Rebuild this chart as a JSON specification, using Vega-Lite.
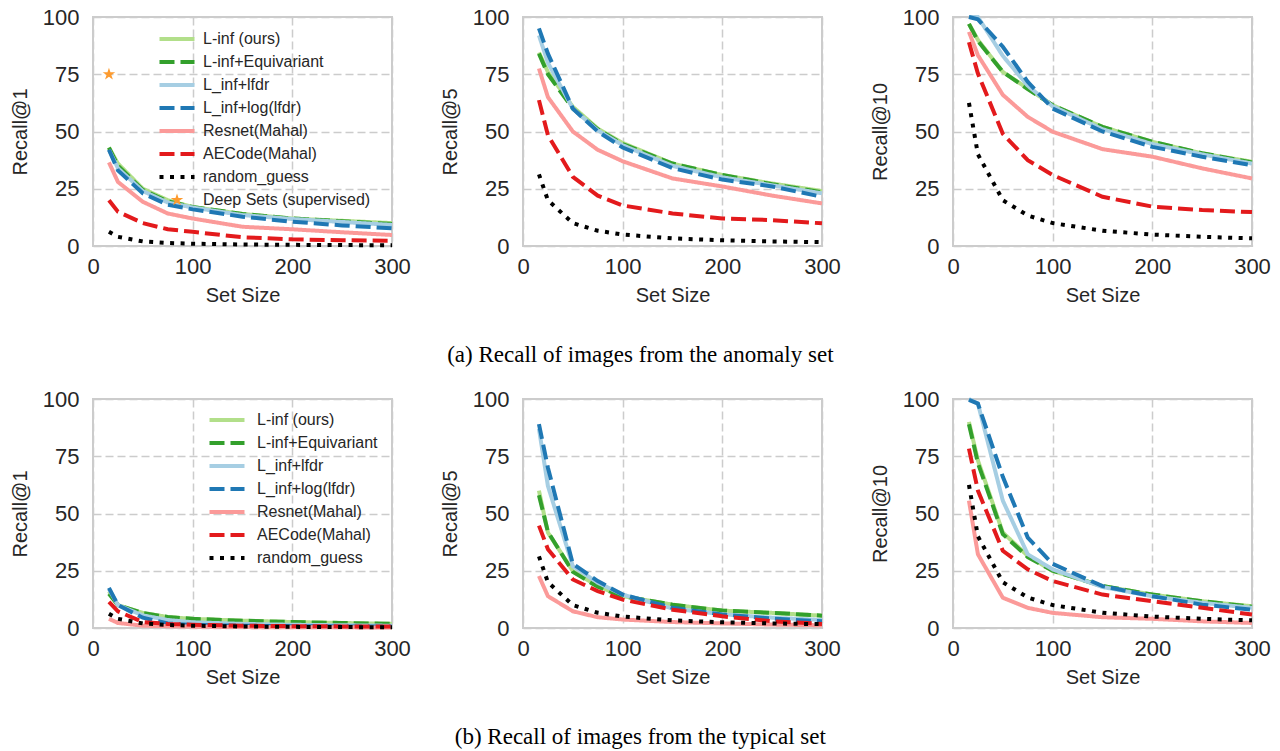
{
"$schema": "https://vega.github.io/schema/vega-lite/v6.json",
"padding": {"left": 9, "top": 5, "right": 5, "bottom": 5},
"background": "white",
"config": {
 "font": "Liberation Sans",
 "view": {"stroke": "#cccccc", "strokeWidth": 2},
 "axis": {"domain": false, "ticks": false, "grid": true, "gridColor": "#cccccc", "gridDash": [8, 4], "gridWidth": 1.5, "labelFontSize": 22, "titleFontSize": 20, "labelColor": "#262626", "titleColor": "#262626", "titleFontWeight": "normal"},
 "axisX": {"labelPadding": 10, "titlePadding": 8, "labelFlush": false},
 "axisY": {"labelPadding": 14, "titlePadding": 12},
 "legend": {"labelLimit": 0}
},
"datasets": {
"a1": [
{"s":"L-inf (ours)","x":16,"y":43},{"s":"L-inf (ours)","x":25,"y":36},{"s":"L-inf (ours)","x":50,"y":25},{"s":"L-inf (ours)","x":75,"y":20},{"s":"L-inf (ours)","x":100,"y":17},{"s":"L-inf (ours)","x":150,"y":14},{"s":"L-inf (ours)","x":200,"y":12},{"s":"L-inf (ours)","x":250,"y":11},{"s":"L-inf (ours)","x":300,"y":10},
{"s":"L-inf+Equivariant","x":16,"y":43},{"s":"L-inf+Equivariant","x":25,"y":35},{"s":"L-inf+Equivariant","x":50,"y":24.5},{"s":"L-inf+Equivariant","x":75,"y":19.5},{"s":"L-inf+Equivariant","x":100,"y":17},{"s":"L-inf+Equivariant","x":150,"y":14},{"s":"L-inf+Equivariant","x":200,"y":12},{"s":"L-inf+Equivariant","x":250,"y":10.8},{"s":"L-inf+Equivariant","x":300,"y":9.6},
{"s":"L_inf+lfdr","x":16,"y":42},{"s":"L_inf+lfdr","x":25,"y":34},{"s":"L_inf+lfdr","x":50,"y":24},{"s":"L_inf+lfdr","x":75,"y":19},{"s":"L_inf+lfdr","x":100,"y":16.8},{"s":"L_inf+lfdr","x":150,"y":13.5},{"s":"L_inf+lfdr","x":200,"y":11.8},{"s":"L_inf+lfdr","x":250,"y":10.5},{"s":"L_inf+lfdr","x":300,"y":9.2},
{"s":"L_inf+log(lfdr)","x":16,"y":42},{"s":"L_inf+log(lfdr)","x":25,"y":33},{"s":"L_inf+log(lfdr)","x":50,"y":23},{"s":"L_inf+log(lfdr)","x":75,"y":18},{"s":"L_inf+log(lfdr)","x":100,"y":16},{"s":"L_inf+log(lfdr)","x":150,"y":12.8},{"s":"L_inf+log(lfdr)","x":200,"y":10.6},{"s":"L_inf+log(lfdr)","x":250,"y":9},{"s":"L_inf+log(lfdr)","x":300,"y":7.7},
{"s":"Resnet(Mahal)","x":16,"y":36.5},{"s":"Resnet(Mahal)","x":25,"y":28},{"s":"Resnet(Mahal)","x":50,"y":19.3},{"s":"Resnet(Mahal)","x":75,"y":14.2},{"s":"Resnet(Mahal)","x":100,"y":12},{"s":"Resnet(Mahal)","x":150,"y":8.4},{"s":"Resnet(Mahal)","x":200,"y":7.3},{"s":"Resnet(Mahal)","x":250,"y":6},{"s":"Resnet(Mahal)","x":300,"y":4.8},
{"s":"AECode(Mahal)","x":16,"y":20},{"s":"AECode(Mahal)","x":25,"y":15},{"s":"AECode(Mahal)","x":50,"y":10},{"s":"AECode(Mahal)","x":75,"y":7.3},{"s":"AECode(Mahal)","x":100,"y":6.2},{"s":"AECode(Mahal)","x":150,"y":3.8},{"s":"AECode(Mahal)","x":200,"y":2.9},{"s":"AECode(Mahal)","x":250,"y":2.5},{"s":"AECode(Mahal)","x":300,"y":2.3},
{"s":"random_guess","x":16,"y":6.25},{"s":"random_guess","x":25,"y":4},{"s":"random_guess","x":50,"y":2},{"s":"random_guess","x":75,"y":1.33},{"s":"random_guess","x":100,"y":1},{"s":"random_guess","x":150,"y":0.67},{"s":"random_guess","x":200,"y":0.5},{"s":"random_guess","x":250,"y":0.4},{"s":"random_guess","x":300,"y":0.33}
],
"a5": [
{"s":"L-inf (ours)","x":16,"y":84.5},{"s":"L-inf (ours)","x":25,"y":76},{"s":"L-inf (ours)","x":50,"y":60.8},{"s":"L-inf (ours)","x":75,"y":51.3},{"s":"L-inf (ours)","x":100,"y":45},{"s":"L-inf (ours)","x":150,"y":36},{"s":"L-inf (ours)","x":200,"y":31},{"s":"L-inf (ours)","x":250,"y":27.3},{"s":"L-inf (ours)","x":300,"y":24},
{"s":"L-inf+Equivariant","x":16,"y":84},{"s":"L-inf+Equivariant","x":25,"y":75},{"s":"L-inf+Equivariant","x":50,"y":60},{"s":"L-inf+Equivariant","x":75,"y":51},{"s":"L-inf+Equivariant","x":100,"y":44.5},{"s":"L-inf+Equivariant","x":150,"y":36},{"s":"L-inf+Equivariant","x":200,"y":31},{"s":"L-inf+Equivariant","x":250,"y":27},{"s":"L-inf+Equivariant","x":300,"y":23.5},
{"s":"L_inf+lfdr","x":16,"y":92},{"s":"L_inf+lfdr","x":25,"y":80},{"s":"L_inf+lfdr","x":50,"y":60},{"s":"L_inf+lfdr","x":75,"y":50.5},{"s":"L_inf+lfdr","x":100,"y":44},{"s":"L_inf+lfdr","x":150,"y":35},{"s":"L_inf+lfdr","x":200,"y":30},{"s":"L_inf+lfdr","x":250,"y":26.5},{"s":"L_inf+lfdr","x":300,"y":23},
{"s":"L_inf+log(lfdr)","x":16,"y":95},{"s":"L_inf+log(lfdr)","x":25,"y":84},{"s":"L_inf+log(lfdr)","x":50,"y":60},{"s":"L_inf+log(lfdr)","x":75,"y":50},{"s":"L_inf+log(lfdr)","x":100,"y":43},{"s":"L_inf+log(lfdr)","x":150,"y":34},{"s":"L_inf+log(lfdr)","x":200,"y":29},{"s":"L_inf+log(lfdr)","x":250,"y":26},{"s":"L_inf+log(lfdr)","x":300,"y":21.5},
{"s":"Resnet(Mahal)","x":16,"y":77.5},{"s":"Resnet(Mahal)","x":25,"y":65},{"s":"Resnet(Mahal)","x":50,"y":50},{"s":"Resnet(Mahal)","x":75,"y":42},{"s":"Resnet(Mahal)","x":100,"y":37},{"s":"Resnet(Mahal)","x":150,"y":29.5},{"s":"Resnet(Mahal)","x":200,"y":26},{"s":"Resnet(Mahal)","x":250,"y":22},{"s":"Resnet(Mahal)","x":300,"y":18.6},
{"s":"AECode(Mahal)","x":16,"y":63.7},{"s":"AECode(Mahal)","x":25,"y":48.4},{"s":"AECode(Mahal)","x":50,"y":30.2},{"s":"AECode(Mahal)","x":75,"y":22},{"s":"AECode(Mahal)","x":100,"y":17.7},{"s":"AECode(Mahal)","x":150,"y":14.2},{"s":"AECode(Mahal)","x":200,"y":12},{"s":"AECode(Mahal)","x":250,"y":11.3},{"s":"AECode(Mahal)","x":300,"y":9.9},
{"s":"random_guess","x":16,"y":31.25},{"s":"random_guess","x":25,"y":20},{"s":"random_guess","x":50,"y":10},{"s":"random_guess","x":75,"y":6.67},{"s":"random_guess","x":100,"y":5},{"s":"random_guess","x":150,"y":3.33},{"s":"random_guess","x":200,"y":2.5},{"s":"random_guess","x":250,"y":2},{"s":"random_guess","x":300,"y":1.67}
],
"a10": [
{"s":"L-inf (ours)","x":16,"y":97},{"s":"L-inf (ours)","x":25,"y":90},{"s":"L-inf (ours)","x":50,"y":76},{"s":"L-inf (ours)","x":75,"y":68.8},{"s":"L-inf (ours)","x":100,"y":61.5},{"s":"L-inf (ours)","x":150,"y":52},{"s":"L-inf (ours)","x":200,"y":45.5},{"s":"L-inf (ours)","x":250,"y":40.4},{"s":"L-inf (ours)","x":300,"y":36.8},
{"s":"L-inf+Equivariant","x":16,"y":97},{"s":"L-inf+Equivariant","x":25,"y":89.5},{"s":"L-inf+Equivariant","x":50,"y":76},{"s":"L-inf+Equivariant","x":75,"y":68.5},{"s":"L-inf+Equivariant","x":100,"y":61.5},{"s":"L-inf+Equivariant","x":150,"y":52},{"s":"L-inf+Equivariant","x":200,"y":45.5},{"s":"L-inf+Equivariant","x":250,"y":40.5},{"s":"L-inf+Equivariant","x":300,"y":36.5},
{"s":"L_inf+lfdr","x":16,"y":100},{"s":"L_inf+lfdr","x":25,"y":100},{"s":"L_inf+lfdr","x":50,"y":83},{"s":"L_inf+lfdr","x":75,"y":70},{"s":"L_inf+lfdr","x":100,"y":61},{"s":"L_inf+lfdr","x":150,"y":51},{"s":"L_inf+lfdr","x":200,"y":44.5},{"s":"L_inf+lfdr","x":250,"y":40},{"s":"L_inf+lfdr","x":300,"y":36},
{"s":"L_inf+log(lfdr)","x":16,"y":100},{"s":"L_inf+log(lfdr)","x":25,"y":99},{"s":"L_inf+log(lfdr)","x":50,"y":87},{"s":"L_inf+log(lfdr)","x":75,"y":71.7},{"s":"L_inf+log(lfdr)","x":100,"y":60},{"s":"L_inf+log(lfdr)","x":150,"y":50},{"s":"L_inf+log(lfdr)","x":200,"y":43.3},{"s":"L_inf+log(lfdr)","x":250,"y":39},{"s":"L_inf+log(lfdr)","x":300,"y":35.3},
{"s":"Resnet(Mahal)","x":16,"y":93.5},{"s":"Resnet(Mahal)","x":25,"y":83.3},{"s":"Resnet(Mahal)","x":50,"y":66},{"s":"Resnet(Mahal)","x":75,"y":56.4},{"s":"Resnet(Mahal)","x":100,"y":49.9},{"s":"Resnet(Mahal)","x":150,"y":42.3},{"s":"Resnet(Mahal)","x":200,"y":39},{"s":"Resnet(Mahal)","x":250,"y":33.9},{"s":"Resnet(Mahal)","x":300,"y":29.5},
{"s":"AECode(Mahal)","x":16,"y":89},{"s":"AECode(Mahal)","x":25,"y":75.3},{"s":"AECode(Mahal)","x":50,"y":49},{"s":"AECode(Mahal)","x":75,"y":37.5},{"s":"AECode(Mahal)","x":100,"y":31},{"s":"AECode(Mahal)","x":150,"y":21.5},{"s":"AECode(Mahal)","x":200,"y":17.2},{"s":"AECode(Mahal)","x":250,"y":15.7},{"s":"AECode(Mahal)","x":300,"y":14.8},
{"s":"random_guess","x":16,"y":62.5},{"s":"random_guess","x":25,"y":40},{"s":"random_guess","x":50,"y":20},{"s":"random_guess","x":75,"y":13.33},{"s":"random_guess","x":100,"y":10},{"s":"random_guess","x":150,"y":6.67},{"s":"random_guess","x":200,"y":5},{"s":"random_guess","x":250,"y":4},{"s":"random_guess","x":300,"y":3.33}
],
"b1": [
{"s":"L-inf (ours)","x":16,"y":16},{"s":"L-inf (ours)","x":25,"y":10},{"s":"L-inf (ours)","x":50,"y":6.6},{"s":"L-inf (ours)","x":75,"y":4.8},{"s":"L-inf (ours)","x":100,"y":4},{"s":"L-inf (ours)","x":150,"y":3.2},{"s":"L-inf (ours)","x":200,"y":2.6},{"s":"L-inf (ours)","x":250,"y":2.2},{"s":"L-inf (ours)","x":300,"y":1.8},
{"s":"L-inf+Equivariant","x":16,"y":15},{"s":"L-inf+Equivariant","x":25,"y":10},{"s":"L-inf+Equivariant","x":50,"y":6.5},{"s":"L-inf+Equivariant","x":75,"y":4.8},{"s":"L-inf+Equivariant","x":100,"y":4},{"s":"L-inf+Equivariant","x":150,"y":3.2},{"s":"L-inf+Equivariant","x":200,"y":2.6},{"s":"L-inf+Equivariant","x":250,"y":2.2},{"s":"L-inf+Equivariant","x":300,"y":1.8},
{"s":"L_inf+lfdr","x":16,"y":17},{"s":"L_inf+lfdr","x":25,"y":10},{"s":"L_inf+lfdr","x":50,"y":5.5},{"s":"L_inf+lfdr","x":75,"y":3.5},{"s":"L_inf+lfdr","x":100,"y":2.5},{"s":"L_inf+lfdr","x":150,"y":1.8},{"s":"L_inf+lfdr","x":200,"y":1.4},{"s":"L_inf+lfdr","x":250,"y":1.2},{"s":"L_inf+lfdr","x":300,"y":1},
{"s":"L_inf+log(lfdr)","x":16,"y":17.5},{"s":"L_inf+log(lfdr)","x":25,"y":10},{"s":"L_inf+log(lfdr)","x":50,"y":4.5},{"s":"L_inf+log(lfdr)","x":75,"y":2},{"s":"L_inf+log(lfdr)","x":100,"y":1.3},{"s":"L_inf+log(lfdr)","x":150,"y":1},{"s":"L_inf+log(lfdr)","x":200,"y":0.8},{"s":"L_inf+log(lfdr)","x":250,"y":0.7},{"s":"L_inf+log(lfdr)","x":300,"y":0.6},
{"s":"Resnet(Mahal)","x":16,"y":4},{"s":"Resnet(Mahal)","x":25,"y":2.2},{"s":"Resnet(Mahal)","x":50,"y":1},{"s":"Resnet(Mahal)","x":75,"y":0.8},{"s":"Resnet(Mahal)","x":100,"y":0.6},{"s":"Resnet(Mahal)","x":150,"y":0.4},{"s":"Resnet(Mahal)","x":200,"y":0.3},{"s":"Resnet(Mahal)","x":250,"y":0.3},{"s":"Resnet(Mahal)","x":300,"y":0.2},
{"s":"AECode(Mahal)","x":16,"y":11.4},{"s":"AECode(Mahal)","x":25,"y":7.3},{"s":"AECode(Mahal)","x":50,"y":2.6},{"s":"AECode(Mahal)","x":75,"y":1.8},{"s":"AECode(Mahal)","x":100,"y":1.4},{"s":"AECode(Mahal)","x":150,"y":1},{"s":"AECode(Mahal)","x":200,"y":0.8},{"s":"AECode(Mahal)","x":250,"y":0.7},{"s":"AECode(Mahal)","x":300,"y":0.6},
{"s":"random_guess","x":16,"y":6.25},{"s":"random_guess","x":25,"y":4},{"s":"random_guess","x":50,"y":2},{"s":"random_guess","x":75,"y":1.33},{"s":"random_guess","x":100,"y":1},{"s":"random_guess","x":150,"y":0.67},{"s":"random_guess","x":200,"y":0.5},{"s":"random_guess","x":250,"y":0.4},{"s":"random_guess","x":300,"y":0.33}
],
"b5": [
{"s":"L-inf (ours)","x":16,"y":60},{"s":"L-inf (ours)","x":25,"y":41.7},{"s":"L-inf (ours)","x":50,"y":24.9},{"s":"L-inf (ours)","x":75,"y":18.3},{"s":"L-inf (ours)","x":100,"y":13.9},{"s":"L-inf (ours)","x":150,"y":10.2},{"s":"L-inf (ours)","x":200,"y":7.6},{"s":"L-inf (ours)","x":250,"y":6.6},{"s":"L-inf (ours)","x":300,"y":5.4},
{"s":"L-inf+Equivariant","x":16,"y":58},{"s":"L-inf+Equivariant","x":25,"y":42},{"s":"L-inf+Equivariant","x":50,"y":24.5},{"s":"L-inf+Equivariant","x":75,"y":18},{"s":"L-inf+Equivariant","x":100,"y":13.9},{"s":"L-inf+Equivariant","x":150,"y":10.2},{"s":"L-inf+Equivariant","x":200,"y":7.6},{"s":"L-inf+Equivariant","x":250,"y":6.6},{"s":"L-inf+Equivariant","x":300,"y":5.4},
{"s":"L_inf+lfdr","x":16,"y":87},{"s":"L_inf+lfdr","x":25,"y":62},{"s":"L_inf+lfdr","x":50,"y":27},{"s":"L_inf+lfdr","x":75,"y":19.8},{"s":"L_inf+lfdr","x":100,"y":14.6},{"s":"L_inf+lfdr","x":150,"y":8.5},{"s":"L_inf+lfdr","x":200,"y":6},{"s":"L_inf+lfdr","x":250,"y":4.5},{"s":"L_inf+lfdr","x":300,"y":3.5},
{"s":"L_inf+log(lfdr)","x":16,"y":89},{"s":"L_inf+log(lfdr)","x":25,"y":70},{"s":"L_inf+log(lfdr)","x":50,"y":28},{"s":"L_inf+log(lfdr)","x":75,"y":20.5},{"s":"L_inf+log(lfdr)","x":100,"y":14.6},{"s":"L_inf+log(lfdr)","x":150,"y":8.8},{"s":"L_inf+log(lfdr)","x":200,"y":5.9},{"s":"L_inf+log(lfdr)","x":250,"y":4.1},{"s":"L_inf+log(lfdr)","x":300,"y":2.9},
{"s":"Resnet(Mahal)","x":16,"y":22.7},{"s":"Resnet(Mahal)","x":25,"y":13.9},{"s":"Resnet(Mahal)","x":50,"y":7.3},{"s":"Resnet(Mahal)","x":75,"y":4.7},{"s":"Resnet(Mahal)","x":100,"y":3.7},{"s":"Resnet(Mahal)","x":150,"y":2.6},{"s":"Resnet(Mahal)","x":200,"y":2},{"s":"Resnet(Mahal)","x":250,"y":1.5},{"s":"Resnet(Mahal)","x":300,"y":1.2},
{"s":"AECode(Mahal)","x":16,"y":44.7},{"s":"AECode(Mahal)","x":25,"y":34.4},{"s":"AECode(Mahal)","x":50,"y":21.2},{"s":"AECode(Mahal)","x":75,"y":16.1},{"s":"AECode(Mahal)","x":100,"y":12.4},{"s":"AECode(Mahal)","x":150,"y":8},{"s":"AECode(Mahal)","x":200,"y":5.1},{"s":"AECode(Mahal)","x":250,"y":2.9},{"s":"AECode(Mahal)","x":300,"y":1.8},
{"s":"random_guess","x":16,"y":31.25},{"s":"random_guess","x":25,"y":20},{"s":"random_guess","x":50,"y":10},{"s":"random_guess","x":75,"y":6.67},{"s":"random_guess","x":100,"y":5},{"s":"random_guess","x":150,"y":3.33},{"s":"random_guess","x":200,"y":2.5},{"s":"random_guess","x":250,"y":2},{"s":"random_guess","x":300,"y":1.67}
],
"b10": [
{"s":"L-inf (ours)","x":16,"y":90},{"s":"L-inf (ours)","x":25,"y":73.2},{"s":"L-inf (ours)","x":50,"y":41.7},{"s":"L-inf (ours)","x":75,"y":31.5},{"s":"L-inf (ours)","x":100,"y":24.9},{"s":"L-inf (ours)","x":150,"y":18.3},{"s":"L-inf (ours)","x":200,"y":14.6},{"s":"L-inf (ours)","x":250,"y":11.7},{"s":"L-inf (ours)","x":300,"y":9.5},
{"s":"L-inf+Equivariant","x":16,"y":89},{"s":"L-inf+Equivariant","x":25,"y":72},{"s":"L-inf+Equivariant","x":50,"y":41},{"s":"L-inf+Equivariant","x":75,"y":31},{"s":"L-inf+Equivariant","x":100,"y":25},{"s":"L-inf+Equivariant","x":150,"y":18.3},{"s":"L-inf+Equivariant","x":200,"y":14.6},{"s":"L-inf+Equivariant","x":250,"y":11.7},{"s":"L-inf+Equivariant","x":300,"y":9.3},
{"s":"L_inf+lfdr","x":16,"y":100},{"s":"L_inf+lfdr","x":25,"y":98},{"s":"L_inf+lfdr","x":50,"y":55.6},{"s":"L_inf+lfdr","x":75,"y":32.2},{"s":"L_inf+lfdr","x":100,"y":25.6},{"s":"L_inf+lfdr","x":150,"y":17.9},{"s":"L_inf+lfdr","x":200,"y":13.9},{"s":"L_inf+lfdr","x":250,"y":11},{"s":"L_inf+lfdr","x":300,"y":8.8},
{"s":"L_inf+log(lfdr)","x":16,"y":99.6},{"s":"L_inf+log(lfdr)","x":25,"y":98},{"s":"L_inf+log(lfdr)","x":50,"y":66},{"s":"L_inf+log(lfdr)","x":75,"y":39.5},{"s":"L_inf+log(lfdr)","x":100,"y":28},{"s":"L_inf+log(lfdr)","x":150,"y":18.3},{"s":"L_inf+log(lfdr)","x":200,"y":13.9},{"s":"L_inf+log(lfdr)","x":250,"y":10.2},{"s":"L_inf+log(lfdr)","x":300,"y":8},
{"s":"Resnet(Mahal)","x":16,"y":55.6},{"s":"Resnet(Mahal)","x":25,"y":32.2},{"s":"Resnet(Mahal)","x":50,"y":13.2},{"s":"Resnet(Mahal)","x":75,"y":8.8},{"s":"Resnet(Mahal)","x":100,"y":6.6},{"s":"Resnet(Mahal)","x":150,"y":4.7},{"s":"Resnet(Mahal)","x":200,"y":4},{"s":"Resnet(Mahal)","x":250,"y":2.9},{"s":"Resnet(Mahal)","x":300,"y":2.2},
{"s":"AECode(Mahal)","x":16,"y":78.3},{"s":"AECode(Mahal)","x":25,"y":60},{"s":"AECode(Mahal)","x":50,"y":33.7},{"s":"AECode(Mahal)","x":75,"y":25.6},{"s":"AECode(Mahal)","x":100,"y":20.5},{"s":"AECode(Mahal)","x":150,"y":14.6},{"s":"AECode(Mahal)","x":200,"y":11.7},{"s":"AECode(Mahal)","x":250,"y":8.8},{"s":"AECode(Mahal)","x":300,"y":5.9},
{"s":"random_guess","x":16,"y":62.5},{"s":"random_guess","x":25,"y":40},{"s":"random_guess","x":50,"y":20},{"s":"random_guess","x":75,"y":13.33},{"s":"random_guess","x":100,"y":10},{"s":"random_guess","x":150,"y":6.67},{"s":"random_guess","x":200,"y":5},{"s":"random_guess","x":250,"y":4},{"s":"random_guess","x":300,"y":3.33}
],
"stars": [{"s":"Deep Sets (supervised)","x":16,"y":75}]
},
"spacing": 20,
"resolve": {"scale": {"color": "independent", "strokeDash": "independent"}, "legend": {"color": "independent", "strokeDash": "independent"}},
"vconcat": [
{
 "spacing": 27,
 "resolve": {"scale": {"color": "independent", "strokeDash": "independent"}, "legend": {"color": "independent", "strokeDash": "independent"}},
 "title": {"text": "(a) Recall of images from the anomaly set", "orient": "bottom", "anchor": "middle", "font": "Liberation Serif", "fontSize": 23, "fontWeight": "normal", "color": "black", "offset": 38},
 "hconcat": [
  {"width": 299, "height": 229, "layer": [
   {"data": {"name": "a1"}, "mark": {"type": "line", "strokeWidth": 4, "strokeCap": "butt"},
    "encoding": {
     "x": {"field": "x", "type": "quantitative", "scale": {"domain": [0, 300], "nice": false}, "axis": {"values": [0, 100, 200, 300], "title": "Set Size"}},
     "y": {"field": "y", "type": "quantitative", "scale": {"domain": [0, 100], "nice": false}, "axis": {"values": [0, 25, 50, 75, 100], "title": "Recall@1"}},
     "color": {"field": "s", "type": "nominal", "scale": {"domain": ["L-inf (ours)", "L-inf+Equivariant", "L_inf+lfdr", "L_inf+log(lfdr)", "Resnet(Mahal)", "AECode(Mahal)", "random_guess", "Deep Sets (supervised)"], "range": ["#b2df8a", "#33a02c", "#a6cee3", "#1f78b4", "#fb9a99", "#e31a1c", "#000000", "#fd9b2f"]},
      "legend": {"orient": "none", "legendX": 76, "legendY": 14, "title": null, "padding": 0, "symbolType": "M-1.75,0L1.75,0", "symbolSize": 400, "symbolStrokeWidth": 4, "labelFontSize": 16, "labelColor": "#262626", "rowPadding": 7, "labelOffset": 18, "labelLimit": 0,
       "encode": {"symbols": {"update": {
        "shape": {"signal": "datum.value === 'Deep Sets (supervised)' ? 'M0,-1L0.2245,-0.309L0.951,-0.309L0.363,0.118L0.588,0.809L0,0.382L-0.588,0.809L-0.363,0.118L-0.951,-0.309L-0.2245,-0.309Z' : 'M-1.75,0L1.75,0'"},
        "size": {"signal": "datum.value === 'Deep Sets (supervised)' ? 175 : 400"},
        "fill": {"signal": "datum.value === 'Deep Sets (supervised)' ? '#fd9b2f' : 'transparent'"},
        "strokeWidth": {"signal": "datum.value === 'Deep Sets (supervised)' ? 0 : 4"}
       }}}}},
     "strokeDash": {"field": "s", "type": "nominal", "scale": {"domain": ["L-inf (ours)", "L-inf+Equivariant", "L_inf+lfdr", "L_inf+log(lfdr)", "Resnet(Mahal)", "AECode(Mahal)", "random_guess", "Deep Sets (supervised)"], "range": [[1, 0], [15, 6], [1, 0], [15, 6], [1, 0], [15, 6], [4, 6.5], [1, 0]]},
      "legend": {"orient": "none", "legendX": 76, "legendY": 14, "title": null, "padding": 0, "symbolType": "M-1.75,0L1.75,0", "symbolSize": 400, "symbolStrokeWidth": 4, "labelFontSize": 16, "labelColor": "#262626", "rowPadding": 7, "labelOffset": 18, "labelLimit": 0}}
    }},
   {"data": {"name": "stars"}, "mark": {"type": "point", "shape": "M0,-1L0.2245,-0.309L0.951,-0.309L0.363,0.118L0.588,0.809L0,0.382L-0.588,0.809L-0.363,0.118L-0.951,-0.309L-0.2245,-0.309Z", "filled": true, "size": 175, "color": "#fd9b2f", "opacity": 1},
    "encoding": {"x": {"field": "x", "type": "quantitative"}, "y": {"field": "y", "type": "quantitative"}}}
  ]},
  {"width": 299, "height": 229, "data": {"name": "a5"}, "mark": {"type": "line", "strokeWidth": 4, "strokeCap": "butt"},
   "encoding": {
    "x": {"field": "x", "type": "quantitative", "scale": {"domain": [0, 300], "nice": false}, "axis": {"values": [0, 100, 200, 300], "title": "Set Size"}},
    "y": {"field": "y", "type": "quantitative", "scale": {"domain": [0, 100], "nice": false}, "axis": {"values": [0, 25, 50, 75, 100], "title": "Recall@5"}},
    "color": {"field": "s", "type": "nominal", "scale": {"domain": ["L-inf (ours)", "L-inf+Equivariant", "L_inf+lfdr", "L_inf+log(lfdr)", "Resnet(Mahal)", "AECode(Mahal)", "random_guess"], "range": ["#b2df8a", "#33a02c", "#a6cee3", "#1f78b4", "#fb9a99", "#e31a1c", "#000000"]}, "legend": null},
    "strokeDash": {"field": "s", "type": "nominal", "scale": {"domain": ["L-inf (ours)", "L-inf+Equivariant", "L_inf+lfdr", "L_inf+log(lfdr)", "Resnet(Mahal)", "AECode(Mahal)", "random_guess"], "range": [[1, 0], [15, 6], [1, 0], [15, 6], [1, 0], [15, 6], [4, 6.5]]}, "legend": null}
   }},
  {"width": 299, "height": 229, "data": {"name": "a10"}, "mark": {"type": "line", "strokeWidth": 4, "strokeCap": "butt"},
   "encoding": {
    "x": {"field": "x", "type": "quantitative", "scale": {"domain": [0, 300], "nice": false}, "axis": {"values": [0, 100, 200, 300], "title": "Set Size"}},
    "y": {"field": "y", "type": "quantitative", "scale": {"domain": [0, 100], "nice": false}, "axis": {"values": [0, 25, 50, 75, 100], "title": "Recall@10"}},
    "color": {"field": "s", "type": "nominal", "scale": {"domain": ["L-inf (ours)", "L-inf+Equivariant", "L_inf+lfdr", "L_inf+log(lfdr)", "Resnet(Mahal)", "AECode(Mahal)", "random_guess"], "range": ["#b2df8a", "#33a02c", "#a6cee3", "#1f78b4", "#fb9a99", "#e31a1c", "#000000"]}, "legend": null},
    "strokeDash": {"field": "s", "type": "nominal", "scale": {"domain": ["L-inf (ours)", "L-inf+Equivariant", "L_inf+lfdr", "L_inf+log(lfdr)", "Resnet(Mahal)", "AECode(Mahal)", "random_guess"], "range": [[1, 0], [15, 6], [1, 0], [15, 6], [1, 0], [15, 6], [4, 6.5]]}, "legend": null}
   }}
 ]
},
{
 "spacing": 27,
 "resolve": {"scale": {"color": "independent", "strokeDash": "independent"}, "legend": {"color": "independent", "strokeDash": "independent"}},
 "title": {"text": "(b) Recall of images from the typical set", "orient": "bottom", "anchor": "middle", "font": "Liberation Serif", "fontSize": 23, "fontWeight": "normal", "color": "black", "offset": 38},
 "hconcat": [
  {"width": 299, "height": 229, "data": {"name": "b1"}, "mark": {"type": "line", "strokeWidth": 4, "strokeCap": "butt"},
   "encoding": {
    "x": {"field": "x", "type": "quantitative", "scale": {"domain": [0, 300], "nice": false}, "axis": {"values": [0, 100, 200, 300], "title": "Set Size"}},
    "y": {"field": "y", "type": "quantitative", "scale": {"domain": [0, 100], "nice": false}, "axis": {"values": [0, 25, 50, 75, 100], "title": "Recall@1"}},
    "color": {"field": "s", "type": "nominal", "scale": {"domain": ["L-inf (ours)", "L-inf+Equivariant", "L_inf+lfdr", "L_inf+log(lfdr)", "Resnet(Mahal)", "AECode(Mahal)", "random_guess"], "range": ["#b2df8a", "#33a02c", "#a6cee3", "#1f78b4", "#fb9a99", "#e31a1c", "#000000"]},
     "legend": {"orient": "none", "legendX": 122, "legendY": 9, "title": null, "padding": 0, "symbolType": "M-1.75,0L1.75,0", "symbolSize": 400, "symbolStrokeWidth": 4, "labelFontSize": 16, "labelColor": "#262626", "rowPadding": 3, "labelOffset": 18, "labelLimit": 0}},
    "strokeDash": {"field": "s", "type": "nominal", "scale": {"domain": ["L-inf (ours)", "L-inf+Equivariant", "L_inf+lfdr", "L_inf+log(lfdr)", "Resnet(Mahal)", "AECode(Mahal)", "random_guess"], "range": [[1, 0], [15, 6], [1, 0], [15, 6], [1, 0], [15, 6], [4, 6.5]]},
     "legend": {"orient": "none", "legendX": 122, "legendY": 9, "title": null, "padding": 0, "symbolType": "M-1.75,0L1.75,0", "symbolSize": 400, "symbolStrokeWidth": 4, "labelFontSize": 16, "labelColor": "#262626", "rowPadding": 3, "labelOffset": 18, "labelLimit": 0}}
   }},
  {"width": 299, "height": 229, "data": {"name": "b5"}, "mark": {"type": "line", "strokeWidth": 4, "strokeCap": "butt"},
   "encoding": {
    "x": {"field": "x", "type": "quantitative", "scale": {"domain": [0, 300], "nice": false}, "axis": {"values": [0, 100, 200, 300], "title": "Set Size"}},
    "y": {"field": "y", "type": "quantitative", "scale": {"domain": [0, 100], "nice": false}, "axis": {"values": [0, 25, 50, 75, 100], "title": "Recall@5"}},
    "color": {"field": "s", "type": "nominal", "scale": {"domain": ["L-inf (ours)", "L-inf+Equivariant", "L_inf+lfdr", "L_inf+log(lfdr)", "Resnet(Mahal)", "AECode(Mahal)", "random_guess"], "range": ["#b2df8a", "#33a02c", "#a6cee3", "#1f78b4", "#fb9a99", "#e31a1c", "#000000"]}, "legend": null},
    "strokeDash": {"field": "s", "type": "nominal", "scale": {"domain": ["L-inf (ours)", "L-inf+Equivariant", "L_inf+lfdr", "L_inf+log(lfdr)", "Resnet(Mahal)", "AECode(Mahal)", "random_guess"], "range": [[1, 0], [15, 6], [1, 0], [15, 6], [1, 0], [15, 6], [4, 6.5]]}, "legend": null}
   }},
  {"width": 299, "height": 229, "data": {"name": "b10"}, "mark": {"type": "line", "strokeWidth": 4, "strokeCap": "butt"},
   "encoding": {
    "x": {"field": "x", "type": "quantitative", "scale": {"domain": [0, 300], "nice": false}, "axis": {"values": [0, 100, 200, 300], "title": "Set Size"}},
    "y": {"field": "y", "type": "quantitative", "scale": {"domain": [0, 100], "nice": false}, "axis": {"values": [0, 25, 50, 75, 100], "title": "Recall@10"}},
    "color": {"field": "s", "type": "nominal", "scale": {"domain": ["L-inf (ours)", "L-inf+Equivariant", "L_inf+lfdr", "L_inf+log(lfdr)", "Resnet(Mahal)", "AECode(Mahal)", "random_guess"], "range": ["#b2df8a", "#33a02c", "#a6cee3", "#1f78b4", "#fb9a99", "#e31a1c", "#000000"]}, "legend": null},
    "strokeDash": {"field": "s", "type": "nominal", "scale": {"domain": ["L-inf (ours)", "L-inf+Equivariant", "L_inf+lfdr", "L_inf+log(lfdr)", "Resnet(Mahal)", "AECode(Mahal)", "random_guess"], "range": [[1, 0], [15, 6], [1, 0], [15, 6], [1, 0], [15, 6], [4, 6.5]]}, "legend": null}
   }}
 ]
}
]
}
